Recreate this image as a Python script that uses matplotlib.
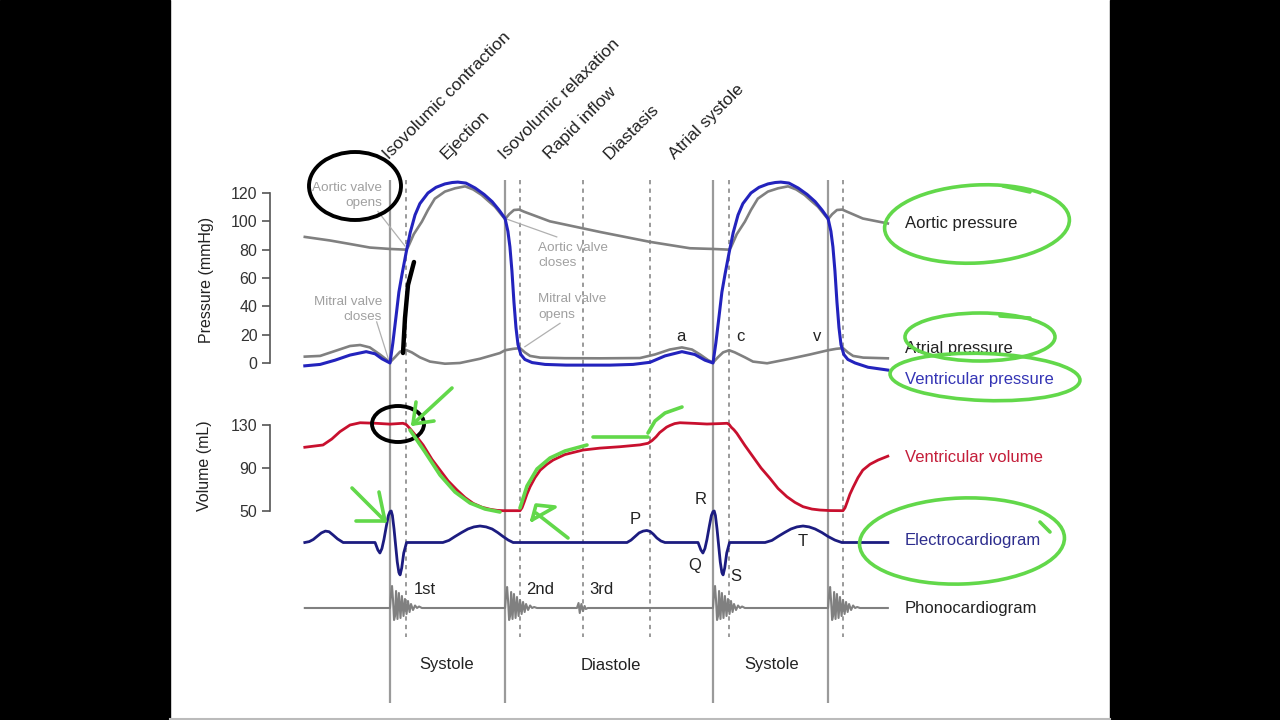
import matplotlib
matplotlib.use('Agg')
import matplotlib.pyplot as plt
from matplotlib.patches import Ellipse, Rectangle

plt.rcParams['font.family'] = ['Liberation Sans', 'DejaVu Sans']

# ---- data (time in ms from mitral valve closure, one cycle = 800 ms) ----
AORTIC_T = [-211, -149, -99, -50, 0, 40, 45, 59, 79, 94, 111, 136, 161, 186, 206, 227,
            243, 260, 285, 295, 307, 320, 332, 396, 520, 644, 743, 800,
            840, 845, 859, 879, 894, 911, 936, 961, 986, 1006, 1027, 1043, 1060, 1085, 1095, 1107,
            1120, 1132, 1171, 1233]
AORTIC_P = [89, 86.5, 84, 81.5, 80.5, 80, 82, 91, 99.8, 108, 116, 121, 123.3, 124.7, 122.5, 118.6,
            114.5, 110.3, 101.5, 105, 108, 108.3, 106.8, 100, 92.5, 85.5, 81, 80.5,
            80, 82, 91, 99.8, 108, 116, 121, 123.3, 124.7, 122.5, 118.6, 114.5, 110.3, 101.5, 105, 108,
            108.3, 106.8, 102, 98.5]

ATRIAL_T = [-211, -173, -136, -99, -74, -50, -25, 0, 12, 25, 40, 54, 74, 99, 136, 173,
            223, 272, 285, 305, 322, 334, 347, 372, 433, 520, 619, 656, 693, 723, 748, 768,
            788, 800, 812, 825, 840, 854, 879, 899, 934, 991, 1040, 1085, 1105, 1122, 1134, 1147,
            1172, 1233]
ATRIAL_P = [4.5, 5, 8.5, 12, 12.7, 11, 6, 0.5, 4, 8, 9.2, 7.5, 4, 1, -0.5, 0,
            3, 7, 9, 10, 10.5, 7.5, 5, 3.8, 3.4, 3.3, 3.5, 6, 9.5, 11, 9.5, 6,
            2, 0.3, 4, 7.5, 9, 7.5, 4, 1, -0.2, 3, 6, 9, 10, 10.5, 7.5, 5,
            3.8, 3.3]

VENT_T = [-211, -173, -136, -99, -59, -37, -20, 0, 7, 15, 22, 30, 40, 50, 62, 74,
          94, 114, 136, 154, 168, 188, 211, 233, 253, 270, 285, 292, 297, 302, 307, 312,
          317, 324, 334, 352, 384, 436, 545, 602, 644, 681, 723, 755, 780,
          800, 807, 815, 822, 830, 840, 850, 862, 874, 894, 914, 936, 954, 968, 988, 1011,
          1033, 1053, 1070, 1085, 1092, 1097, 1102, 1107, 1112, 1117, 1124, 1134, 1152, 1184, 1233]
VENT_P = [-2, -1, 2, 5.6, 8, 6.5, 3, 0, 14, 33, 50, 63, 78, 92, 104.5, 112.5,
          120, 124, 126.4, 127.4, 127.7, 127, 123.5, 119, 113.9, 108, 102, 93, 82, 65, 43, 25,
          13, 6, 2.5, 0.3, -1, -1.5, -1.5, -1, 0.5, 5, 8, 6, 2,
          0, 14, 33, 50, 63, 78, 92, 104.5, 112.5, 120, 124, 126.4, 127.4, 127.7, 127, 123.5,
          119, 113.9, 108, 102, 93, 82, 65, 43, 25, 13, 6, 2.5, 0, -3, -5]

VOLUME_T = [-211, -166, -144, -124, -99, -74, -35, 0, 32, 40, 45, 52, 62, 82, 104, 124,
            144, 166, 186, 206, 228, 248, 265, 280, 322, 327, 332, 339, 347, 359, 372, 389,
            404, 433, 478, 520, 570, 619, 639, 649, 659, 668, 676, 685, 693, 705, 718, 755,
            785, 817, 835, 840, 845, 852, 859, 879, 899, 919, 941, 961, 983, 1003, 1023, 1045,
            1065, 1090, 1122, 1127, 1132, 1139, 1147, 1159, 1171, 1189, 1209, 1233]
VOLUME_ML = [109.3, 111.4, 117, 123.8, 130, 132.1, 131.6, 130.8, 131.6, 130.5, 128.5, 125.5, 121, 111.4, 98, 88,
             78, 69.5, 62.5, 57.1, 53.5, 51.6, 50.6, 50.3, 50.3, 53, 58, 65.5, 72.6, 81, 88, 93.5,
             97.4, 102.5, 106.7, 108.5, 109.8, 111.5, 113, 115.5, 119, 123, 125.3, 128, 129.5, 131.3, 132.1, 131.5,
             130.9, 131.3, 131.6, 130.5, 128, 125.5, 122.3, 111, 100.5, 90, 80.4, 71, 63.3, 58, 54, 51.8,
             50.9, 50.4, 50.3, 53, 58, 65.5, 72, 81, 88, 93.5, 97.4, 101]

ECG_T = [-211, -200, -190, -181, -170, -160, -151, -141, -130, -116,
         -37, -30, -25, -20, -15, -9, -4, 0, 3, 6, 10, 14, 18, 22, 25, 29, 34, 41,
         131, 146, 161, 177, 193, 208, 223, 238, 253, 267, 280, 293, 305,
         587, 597, 607, 617, 627, 636, 644, 652, 661, 671, 681,
         763, 770, 775, 780, 785, 791, 796, 800, 803, 806, 810, 814, 818, 822, 825, 829, 834, 841,
         929, 946, 961, 977, 993, 1008, 1023, 1038, 1053, 1070, 1085, 1102, 1119, 1233]
ECG_MV = [0, 0.03, 0.1, 0.2, 0.32, 0.38, 0.36, 0.25, 0.12, 0,
          0, -0.25, -0.35, -0.2, 0.1, 0.55, 0.9, 1.03, 1.05, 0.9, 0.45, -0.1, -0.65, -1.0, -1.08, -0.85, -0.35, 0,
          0, 0.07, 0.2, 0.33, 0.45, 0.52, 0.55, 0.52, 0.45, 0.33, 0.2, 0.08, 0,
          0, 0.08, 0.2, 0.32, 0.38, 0.4, 0.37, 0.28, 0.15, 0.05, 0,
          0, -0.25, -0.35, -0.2, 0.1, 0.55, 0.9, 1.03, 1.05, 0.9, 0.45, -0.1, -0.65, -1.0, -1.08, -0.85, -0.35, 0,
          0, 0.07, 0.2, 0.33, 0.45, 0.52, 0.55, 0.52, 0.45, 0.33, 0.2, 0.08, 0, 0]

# heart sounds: onset times and burst shapes (offset ms, amplitude)
SOUND_ONSETS = [0, 285, 463, 800, 1085]
SOUND_KIND = ['S1', 'S2', 'S3', 'S1', 'S2']
BURST_T = {
    'S1': [0, 2.5, 5, 7.5, 10, 12.5, 15, 18.5, 22, 26, 29.5, 33.5, 37, 41, 44.5, 48.5, 52, 57, 62, 67, 72, 79],
    'S2': [0, 2.5, 5, 7.5, 10, 12.5, 15, 18.5, 22, 26, 29.5, 33.5, 37, 41, 44.5, 48.5, 52, 57, 62, 67, 72, 79],
    'S3': [0, 4, 7, 11, 15, 19, 22, 27],
}
BURST_A = {
    'S1': [0, 1.4, 2.2, 0.8, -1.2, -0.8, 1.7, -1.1, 1.5, -1.0, 1.2, -0.8, 0.9, -0.6, 0.7, -0.4, 0.4, -0.2, 0.25, 0, 0.15, 0],
    'S2': [0, 1.3, 2.1, 0.7, -1.2, -0.8, 1.6, -1.1, 1.4, -1.0, 1.1, -0.8, 0.8, -0.6, 0.6, -0.4, 0.4, -0.2, 0.25, 0, 0.1, 0],
    'S3': [0, 0.5, -0.5, 0.4, -0.3, 0.2, -0.1, 0],
}
TRACE_START, TRACE_END = -211, 1233

SOLID_EVENTS = [0, 285, 800, 1085]
DASHED_EVENTS = [40, 322, 478, 644, 840, 1122]

PHASES = ['Isovolumic contraction', 'Ejection', 'Isovolumic relaxation',
          'Rapid inflow', 'Diastasis', 'Atrial systole']
PHASE_T = [-2, 141, 285, 396, 545, 706]
PERIODS = ['Systole', 'Diastole', 'Systole']
PERIOD_T = [139, 547, 946]

# ---- layout (figure pixels) ----
W, H = 1280, 720
PX_PER_MS = 323 / 800
X_ZERO = 390


def ms(px):
    return (px - X_ZERO) / PX_PER_MS


XLIM = (ms(0), ms(W))
LABEL_T = ms(905)
SPINE_T = ms(270)

fig = plt.figure(figsize=(12.8, 7.2), dpi=100)
fig.patch.set_facecolor('white')


def panel(top_row, bottom_row, zero_row, px_per_unit):
    ax = fig.add_axes([0, 1 - bottom_row / H, 1, (bottom_row - top_row) / H])
    ax.set_xlim(XLIM)
    ax.set_ylim((zero_row - bottom_row) / px_per_unit, (zero_row - top_row) / px_per_unit)
    ax.patch.set_visible(False)
    for s in ax.spines.values():
        s.set_visible(False)
    ax.set_xticks([])
    ax.set_yticks([])
    return ax


def left_axis(ax, ticks):
    ax.spines['left'].set_visible(True)
    ax.spines['left'].set_position(('data', SPINE_T))
    ax.spines['left'].set_bounds(ticks[0], ticks[-1])
    ax.spines['left'].set_color('#555555')
    ax.spines['left'].set_linewidth(1.2)
    ax.set_yticks(ticks)
    ax.tick_params(axis='y', direction='out', length=6, width=1.2, color='#555555',
                   labelsize=11.5, labelcolor='#333333', pad=3)


# background: black borders, event lines, phase labels
bg = fig.add_axes([0, 0, 1, 1])
bg.set_xlim(XLIM)
bg.set_ylim(H, 0)
bg.axis('off')
fig.add_artist(Rectangle((0, 0), 170 / W, 1, transform=fig.transFigure, color='black', zorder=0))
fig.add_artist(Rectangle((1110 / W, 0), 170 / W, 1, transform=fig.transFigure, color='black', zorder=0))
bg.plot([ms(170), ms(1110)], [719, 719], color='#bbbbbb', lw=1.5)
bg.vlines(SOLID_EVENTS, 180, 703, colors='#9a9a9a', lw=1.6)
bg.vlines(DASHED_EVENTS, 180, 637, colors='#9a9a9a', lw=1.4, linestyles=(0, (2.2, 2.2)))
for name, t in zip(PHASES, PHASE_T):
    bg.text(t, 160, name, rotation=45, rotation_mode='anchor', ha='left', va='baseline',
            fontsize=12.5, color='#222222')
for name, t in zip(PERIODS, PERIOD_T):
    bg.text(t, 665, name, ha='center', va='center', fontsize=12, color='#222222')
fig.text(207 / W, 1 - 280 / H, 'Pressure (mmHg)', rotation=90, ha='center', va='center',
         fontsize=11.5, color='#222222')
fig.text(205 / W, 1 - 466 / H, 'Volume (mL)', rotation=90, ha='center', va='center',
         fontsize=11.5, color='#222222')

GRAY = '#808080'
BLUE = '#2323bd'
RED = '#c8102e'
NAVY = '#1c1c80'
NOTE = '#a0a0a0'

# pressure panel
pax = panel(150, 400, 363, 170 / 120)
left_axis(pax, [0, 20, 40, 60, 80, 100, 120])
pax.plot(AORTIC_T, AORTIC_P, color=GRAY, lw=1.9, zorder=2)
pax.plot(ATRIAL_T, ATRIAL_P, color=GRAY, lw=1.9, zorder=2)
pax.plot(VENT_T, VENT_P, color=BLUE, lw=2.2, zorder=3)
notes = [('Aortic valve\nopens', ms(382), 118, 'right', (-30, 107), (37, 82.6)),
         ('Mitral valve\ncloses', ms(382), 38, 'right', (-33, 29), (-2, 1)),
         ('Aortic valve\ncloses', ms(538), 76, 'left', (285, 102), (413, 89)),
         ('Mitral valve\nopens', ms(538), 39.5, 'left', (334, 11.5), (421, 28))]
for txt, tx, ty, ha, p0, p1 in notes:
    pax.text(tx, ty, txt, ha=ha, va='center', multialignment=ha, fontsize=9.7,
             color=NOTE, linespacing=1.35)
    pax.plot([p0[0], p1[0]], [p0[1], p1[1]], color='#b0b0b0', lw=0.9)
for lab, t in zip(['a', 'c', 'v'], [721, 867, 1058]):
    pax.text(t, 19, lab, ha='center', va='center', fontsize=12, color='#222222')
pax.text(LABEL_T, 98.8, 'Aortic pressure', va='center', fontsize=12, color='#222222')
pax.text(LABEL_T, 9.9, 'Atrial pressure', va='center', fontsize=12, color='#222222')
pax.text(LABEL_T, -11.3, 'Ventricular pressure', va='center', fontsize=12, color='#3535b5')

# volume panel
vax = panel(400, 525, 564.75, 1.075)
left_axis(vax, [50, 90, 130])
vax.plot(VOLUME_T, VOLUME_ML, color=RED, lw=2.0)
vax.text(LABEL_T, 100.2, 'Ventricular volume', va='center', fontsize=12, color='#c41e3a')

# ECG panel
eax = panel(480, 610, 542.5, 30)
eax.plot(ECG_T, ECG_MV, color=NAVY, lw=2.0)
for lab, t, v in zip(['P', 'R', 'Q', 'S', 'T'], [607, 770, 755, 857, 1023],
                     [0.76, 1.42, -0.78, -1.14, 0.02]):
    eax.text(t, v, lab, ha='center', va='center', fontsize=12, color='#222222')
eax.text(LABEL_T, 0.05, 'Electrocardiogram', va='center', fontsize=12, color='#2e2e8e')

# phonocardiogram panel
phono_t, phono_a = [TRACE_START], [0]
for onset, kind in zip(SOUND_ONSETS, SOUND_KIND):
    phono_t += [onset + o for o in BURST_T[kind]]
    phono_a += BURST_A[kind]
phono_t.append(TRACE_END)
phono_a.append(0)
sax = panel(560, 660, 608, 10)
sax.plot(phono_t, phono_a, color=GRAY, lw=1.5)
for lab, t in zip(['1st', '2nd', '3rd'], [87, 372, 523]):
    sax.text(t, 1.8, lab, ha='center', va='center', fontsize=12, color='#222222')
sax.text(LABEL_T, 0, 'Phonocardiogram', va='center', fontsize=12, color='#222222')

# hand-drawn ink on top (figure pixel coordinates)
ink = fig.add_axes([0, 0, 1, 1])
ink.set_xlim(0, W)
ink.set_ylim(H, 0)
ink.axis('off')
INK_GREEN = '#62d84a'
GREEN_RINGS = [(977, 224, 185, 78, -3), (980, 337, 150, 48, 0),
               (985, 377, 190, 47, 2), (962, 541, 205, 86, -2)]
BLACK_RINGS = [(355, 186, 92, 68, 0), (398, 424, 52, 36, 0)]
GREEN_STROKES = [
    [(410, 430), (425, 452), (440, 475), (455, 492), (470, 503), (485, 509), (500, 512)],
    [(520, 508), (527, 486), (537, 469), (550, 458), (565, 451), (587, 445)],
    [(593, 437), (648, 437)],
    [(648, 433), (655, 421), (665, 413), (682, 407)],
    [(452, 388), (413, 424)], [(413, 424), (416, 402)], [(413, 424), (434, 421)],
    [(352, 488), (384, 520)], [(356, 521), (385, 521)], [(385, 521), (379, 492)],
    [(568, 538), (536, 513)], [(532, 520), (536, 505), (555, 507), (532, 520)],
    [(1003, 186), (1030, 192)], [(1040, 522), (1050, 532)], [(1000, 316), (1030, 318)],
]
BLACK_STROKES = [[(403, 353), (405, 318), (408, 285), (414, 262)]]
for cx, cy, w, h, ang in GREEN_RINGS:
    ink.add_patch(Ellipse((cx, cy), w, h, angle=ang, fill=False, ec=INK_GREEN, lw=2.6))
for cx, cy, w, h, ang in BLACK_RINGS:
    ink.add_patch(Ellipse((cx, cy), w, h, angle=ang, fill=False, ec='black', lw=2.8))
for stroke in GREEN_STROKES:
    xs, ys = zip(*stroke)
    ink.plot(xs, ys, color=INK_GREEN, lw=2.6, solid_capstyle='round')
for stroke in BLACK_STROKES:
    xs, ys = zip(*stroke)
    ink.plot(xs, ys, color='black', lw=3.2, solid_capstyle='round')

fig.savefig('out.png', dpi=100)
